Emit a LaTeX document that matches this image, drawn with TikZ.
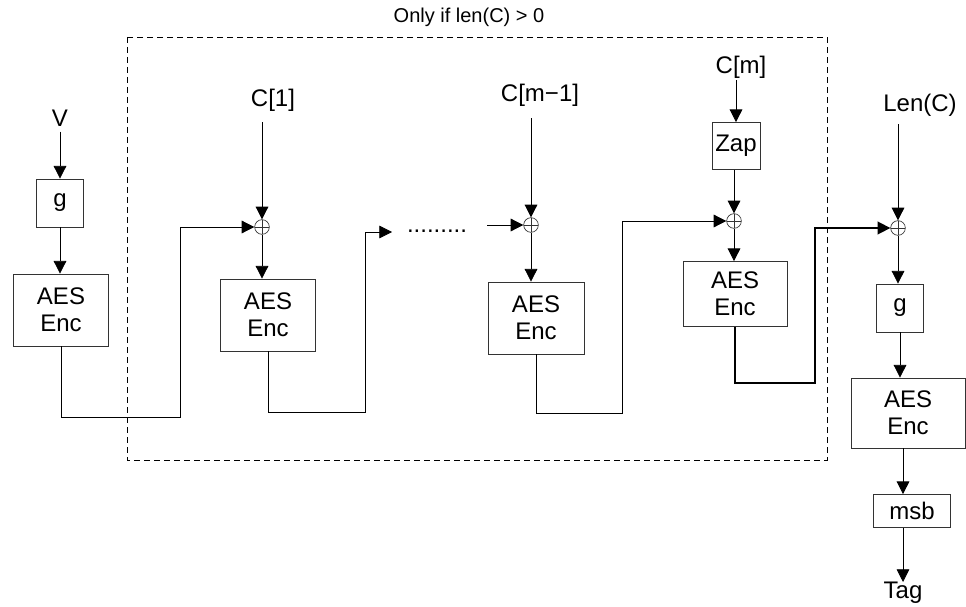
\documentclass[tikz,border=0pt]{standalone}
\usepackage{fontspec}
\setmainfont{Liberation Sans}
\usetikzlibrary{arrows.meta}
\begin{document}
\begin{tikzpicture}[x=0.75pt,y=-0.75pt,
  lbl/.style={font=\fontsize{18}{20}\selectfont, inner sep=0pt},
  blk/.style={draw=black!80, line width=0.6pt, font=\fontsize{18}{20}\selectfont, align=center, inner sep=0pt},
  xorn/.style={circle, draw=black!80, line width=0.5pt, minimum size=11pt, inner sep=0pt,
     path picture={\draw[line width=0.5pt, black!80] (path picture bounding box.north) -- (path picture bounding box.south)
       (path picture bounding box.west) -- (path picture bounding box.east);}},
  conn/.style={line width=0.6pt},
  arr/.style={conn, -{Triangle[length=9.5pt,width=9.5pt]}}
]
\useasboundingbox (0,0) rectangle (966,606);

% dashed region
\draw[dashed, line width=0.6pt, dash pattern=on 4.5pt off 3pt] (127,37) rectangle (827,460);
\node[font=\fontsize{15}{17}\selectfont, inner sep=0pt] (only) at (469,17) {Only if len(C) > 0};

% first column
\node[lbl] (V) at (60,118) {V};
\node[blk, minimum width=35.25pt, minimum height=36pt] (g1) at (60,203) {g};
\node[blk, minimum width=71.25pt, minimum height=54pt] (aes1) at (61,310) {AES\\Enc};

% block 1
\node[lbl] (c1) at (273,100) {C[1]};
\node[xorn] (x1) at (262,227) {};
\node[blk, minimum width=71.25pt, minimum height=54pt] (aes2) at (268,315) {AES\\Enc};

% dots
\coordinate (din) at (392,232);
\node[lbl, anchor=base] (dots) at (437,232) {.........};
\coordinate (dout) at (487,225);

% block m-1
\node[lbl] (c2) at (540,95) {C[m−1]};
\node[xorn] (x2) at (531,225) {};
\node[blk, minimum width=72pt, minimum height=54pt] (aes3) at (536,318) {AES\\Enc};

% block m
\node[lbl] (cm) at (741,67) {C[m]};
\node[blk, minimum width=36pt, minimum height=35.25pt] (zap) at (736,146) {\raisebox{-4pt}{Zap}};
\node[xorn] (x3) at (734,221) {};
\node[blk, minimum width=78pt, minimum height=48.75pt] (aes4) at (735,294) {AES\\Enc};

% final column
\node[lbl] (lenc) at (920,105) {Len(C)};
\node[xorn] (x4) at (898,228) {};
\node[blk, minimum width=35.25pt, minimum height=36pt] (g2) at (900,308) {g};
\node[blk, minimum width=85.5pt, minimum height=52.5pt] (aes5) at (908,413) {AES\\Enc};
\node[blk, minimum width=57.75pt, minimum height=24.75pt] (msb) at (912,511) {msb};
\node[lbl] (tag) at (903,593) {Tag};

% vertical arrows
\draw[arr] (V.south) ++(0,5) -- (g1.north);
\draw[arr] (g1.south) -- (g1.south |- aes1.north);
\draw[arr] (c1.south -| x1) ++(0,11) -- (x1.north);
\draw[arr] (x1.south) -- (x1.south |- aes2.north);
\draw[arr] (c2.south -| x2) ++(0,12) -- (x2.north);
\draw[arr] (x2.south) -- (x2.south |- aes3.north);
\draw[arr] (cm.south -| zap) ++(0,2) -- (zap.north);
\draw[arr] (zap.south -| x3) -- (x3.north);
\draw[arr] (x3.south) -- (x3.south |- aes4.north);
\draw[arr] (lenc.south -| x4) ++(0,8) -- (x4.north);
\draw[arr] (x4.south) -- (x4.south |- g2.north);
\draw[arr] (g2.south) -- (g2.south |- aes5.north);
\draw[arr] (aes5.south -| 903,0) -- (msb.north -| 903,0);
\draw[arr] (msb.south -| 903,0) -- (tag.north -| 903,0);

% chaining connectors
\draw[arr] (aes1.south) |- (180,417) |- (x1.west);
\draw[arr] (aes2.south) |- (365,412) |- (din);
\draw[arr] (dout) -- (x2.west);
\draw[arr] (aes3.south) |- (622,413) |- (x3.west);
\draw[arr, line width=1.2pt] (aes4.south) |- (815,383) |- (x4.west);
\end{tikzpicture}
\end{document}
